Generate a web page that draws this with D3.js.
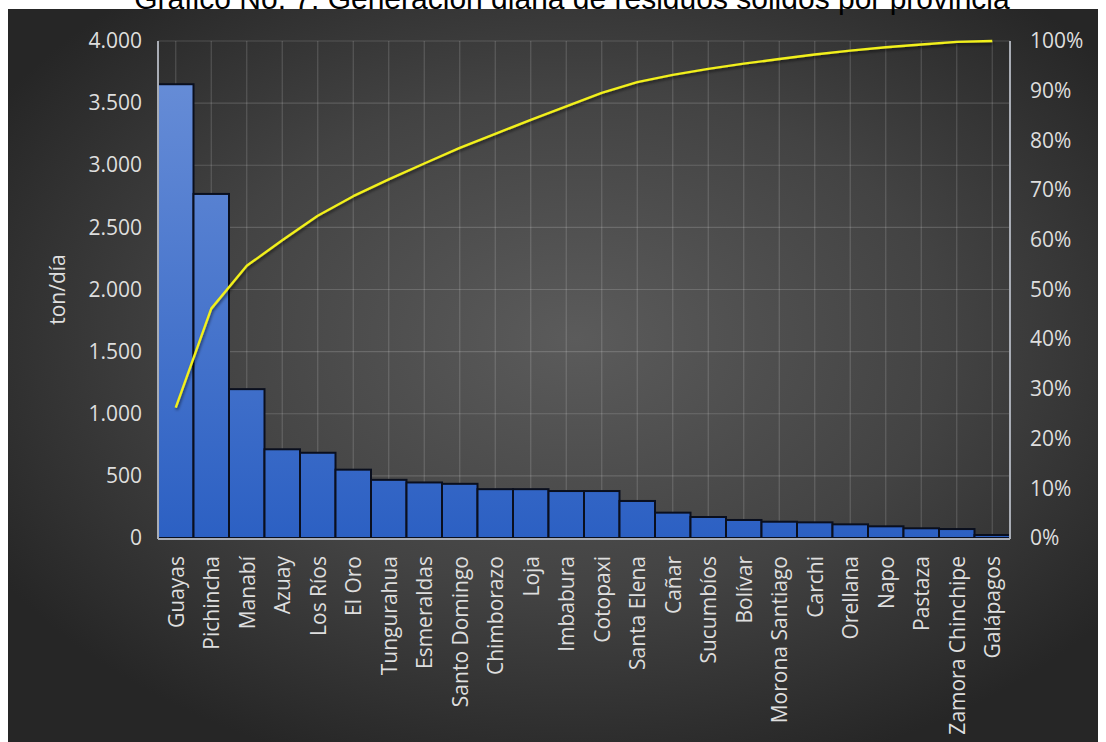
<!DOCTYPE html>
<html>
<head>
<meta charset="utf-8">
<script src="https://cdn.jsdelivr.net/npm/d3@7"></script>
<style>
  html, body { margin: 0; padding: 0; background: #ffffff; }
  svg { display: block; }
</style>
</head>
<body>
<svg id="chart" width="1106" height="742"></svg>
<script>
// Generación diaria de residuos sólidos por provincia (ton/día)
const categories = [
  "Guayas", "Pichincha", "Manabí", "Azuay", "Los Ríos", "El Oro",
  "Tungurahua", "Esmeraldas", "Santo Domingo", "Chimborazo", "Loja",
  "Imbabura", "Cotopaxi", "Santa Elena", "Cañar", "Sucumbíos", "Bolívar",
  "Morona Santiago", "Carchi", "Orellana", "Napo", "Pastaza",
  "Zamora Chinchipe", "Galápagos"
];
const values = [
  3652, 2769, 1198, 714, 686, 550,
  468, 447, 436, 393, 393,
  378, 378, 298, 204, 169, 145,
  131, 126, 110, 94, 78,
  72, 24
];
const leftTicks = [0, 500, 1000, 1500, 2000, 2500, 3000, 3500, 4000];
const rightTicks = [0, 0.1, 0.2, 0.3, 0.4, 0.5, 0.6, 0.7, 0.8, 0.9, 1.0];
const titleText = "Gráfico No. 7: Generación diaria de residuos sólidos por provincia";
const yAxisTitle = "ton/día";

const svg = d3.select("#chart");
const W = 1106, H = 742;
const plot = { left: 158, right: 1010, top: 41, bottom: 538 };

const es = d3.formatLocale({ decimal: ",", thousands: ".", grouping: [3], currency: ["$", ""] });
const fmtTon = es.format(",d");
const fmtPct = d3.format(".0%");

const x = d3.scaleBand().domain(categories).range([plot.left, plot.right]).padding(0);
const y = d3.scaleLinear().domain([0, 4000]).range([plot.bottom, plot.top]);
const yPct = d3.scaleLinear().domain([0, 1]).range([plot.bottom, plot.top]);

// Pareto: running share of the total
const total = d3.sum(values);
const cumShare = Array.from(d3.cumsum(values), v => v / total);

const defs = svg.append("defs");

const bg = defs.append("radialGradient").attr("id", "panelBg")
  .attr("cx", "52%").attr("cy", "45%").attr("r", "62%");
bg.append("stop").attr("offset", "0%").attr("stop-color", "#5b5b5b");
bg.append("stop").attr("offset", "55%").attr("stop-color", "#434343");
bg.append("stop").attr("offset", "100%").attr("stop-color", "#262626");

const barGrad = defs.append("linearGradient").attr("id", "barFill")
  .attr("gradientUnits", "userSpaceOnUse")
  .attr("x1", 0).attr("x2", 0).attr("y1", plot.top).attr("y2", plot.bottom);
barGrad.append("stop").attr("offset", "0%").attr("stop-color", "#6b90d8");
barGrad.append("stop").attr("offset", "100%").attr("stop-color", "#2c60c3");

const shadow = defs.append("filter").attr("id", "lineShadow")
  .attr("x", "-5%").attr("y", "-5%").attr("width", "110%").attr("height", "110%");
shadow.append("feDropShadow").attr("dx", 1).attr("dy", 2).attr("stdDeviation", 1.5)
  .attr("flood-color", "#000").attr("flood-opacity", 0.55);

// Dark panel
svg.append("rect").attr("x", 8).attr("y", 9).attr("width", 1090).attr("height", H - 9)
  .attr("fill", "url(#panelBg)");

// Title
svg.append("text")
  .attr("x", 572).attr("y", 9)
  .attr("text-anchor", "middle")
  .attr("font-family", "'Liberation Sans', Arial, sans-serif")
  .attr("font-size", 30)
  .attr("fill", "#000")
  .text(titleText);

// Gridlines
const grid = svg.append("g").attr("stroke", "rgba(255,255,255,0.16)").attr("stroke-width", 1.2);
grid.selectAll("line.h").data(leftTicks.filter(d => d > 0)).join("line")
  .attr("x1", plot.left).attr("x2", plot.right)
  .attr("y1", d => y(d)).attr("y2", d => y(d));
grid.selectAll("line.v").data(categories).join("line")
  .attr("x1", d => x(d) + x.bandwidth() / 2).attr("x2", d => x(d) + x.bandwidth() / 2)
  .attr("y1", plot.top).attr("y2", plot.bottom);

// Bars
svg.append("g").selectAll("rect").data(values).join("rect")
  .attr("x", (d, i) => x(categories[i]))
  .attr("width", x.bandwidth())
  .attr("y", d => y(d))
  .attr("height", d => y(0) - y(d))
  .attr("fill", "url(#barFill)")
  .attr("stroke", "#0a0f1e")
  .attr("stroke-width", 2);

// Axis lines
const axisCol = "#a9adb5";
svg.append("line").attr("x1", plot.left).attr("x2", plot.left)
  .attr("y1", plot.top).attr("y2", plot.bottom + 1)
  .attr("stroke", axisCol).attr("stroke-width", 2);
svg.append("line").attr("x1", plot.right).attr("x2", plot.right)
  .attr("y1", plot.top).attr("y2", plot.bottom + 1)
  .attr("stroke", axisCol).attr("stroke-width", 2);
svg.append("line").attr("x1", plot.left).attr("x2", plot.right)
  .attr("y1", plot.bottom + 1).attr("y2", plot.bottom + 1)
  .attr("stroke", axisCol).attr("stroke-width", 2);

// Cumulative line
const line = d3.line()
  .x((d, i) => x(categories[i]) + x.bandwidth() / 2)
  .y(d => yPct(d));
svg.append("path").datum(cumShare)
  .attr("d", line)
  .attr("fill", "none")
  .attr("stroke", "#f2f01a")
  .attr("stroke-width", 2.4)
  .attr("stroke-linejoin", "round")
  .attr("filter", "url(#lineShadow)");

// Axes text
const labelFont = "'Open Sans', 'Noto Sans', sans-serif";
const labelCol = "#dedede";
const labelSize = 21;

const leftAxis = d3.axisLeft(y).tickValues(leftTicks).tickFormat(fmtTon).tickSize(0).tickPadding(16);
const gl = svg.append("g").attr("transform", `translate(${plot.left},0)`).call(leftAxis);
gl.select(".domain").remove();
gl.selectAll("text").attr("font-family", labelFont).attr("font-size", labelSize).attr("fill", labelCol);

const rightAxis = d3.axisRight(yPct).tickValues(rightTicks).tickFormat(fmtPct).tickSize(0).tickPadding(20);
const gr = svg.append("g").attr("transform", `translate(${plot.right},0)`).call(rightAxis);
gr.select(".domain").remove();
gr.selectAll("text").attr("font-family", labelFont).attr("font-size", labelSize).attr("fill", labelCol);

const bottomAxis = d3.axisBottom(x).tickSize(0).tickPadding(0);
const gb = svg.append("g").attr("transform", `translate(0,${plot.bottom})`).call(bottomAxis);
gb.select(".domain").remove();
gb.selectAll("text")
  .attr("font-family", labelFont).attr("font-size", labelSize).attr("fill", labelCol)
  .attr("text-anchor", "end")
  .attr("transform", "translate(0,18) rotate(-90)")
  .attr("x", 0).attr("y", 0).attr("dy", "0.38em");

svg.append("text")
  .attr("transform", `translate(58,${(plot.top + plot.bottom) / 2}) rotate(-90)`)
  .attr("text-anchor", "middle").attr("dy", "0.35em")
  .attr("font-family", labelFont).attr("font-size", labelSize).attr("fill", labelCol)
  .text(yAxisTitle);
</script>
</body>
</html>
